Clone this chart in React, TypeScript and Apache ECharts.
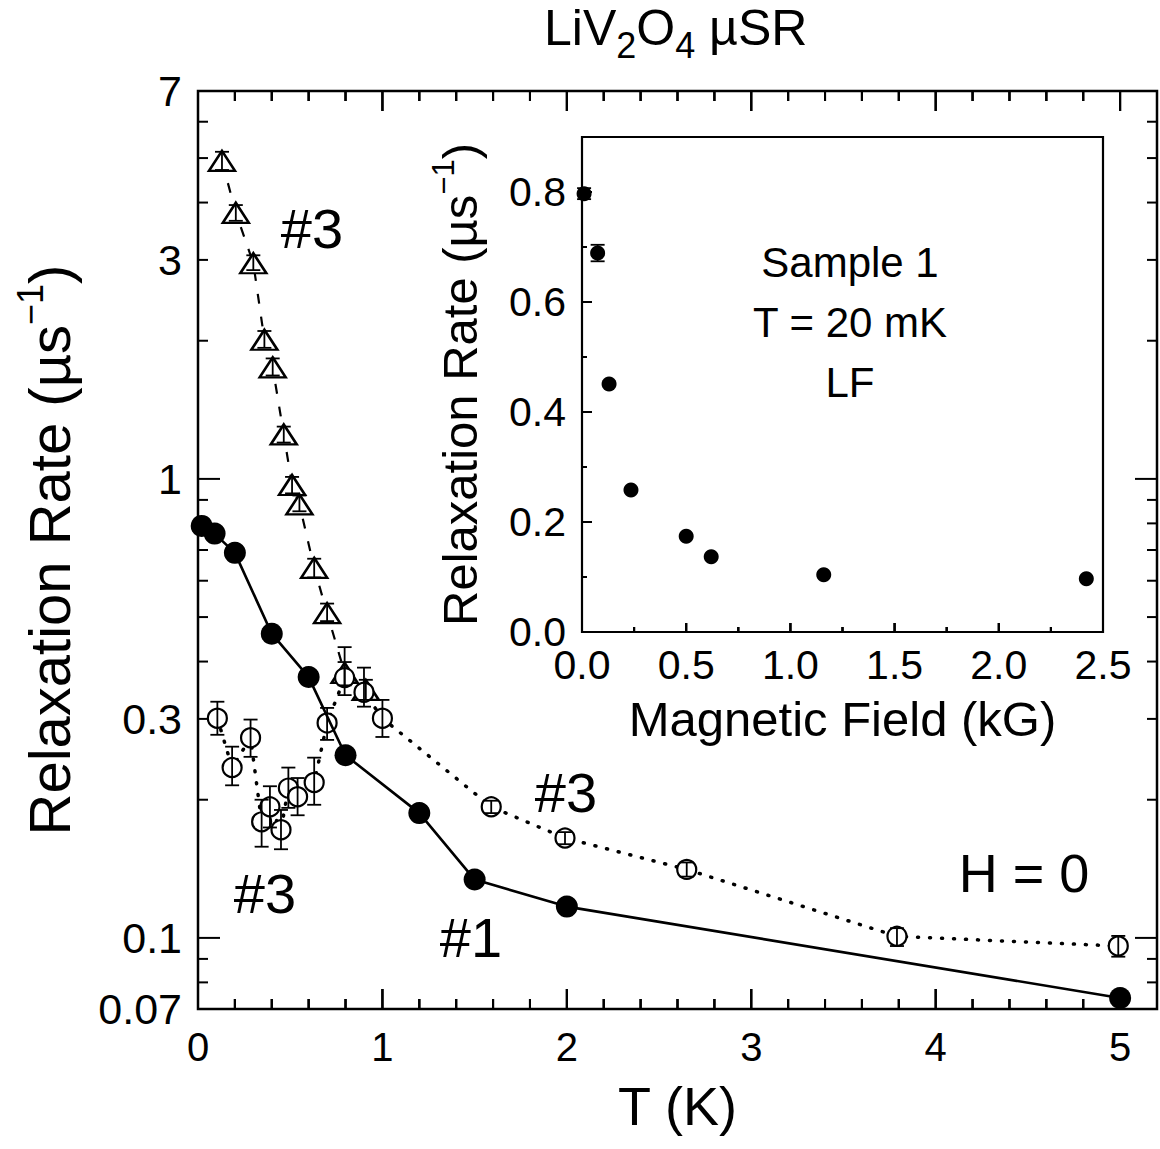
import React, { useEffect, useRef } from 'react';
import * as echarts from 'echarts';

// ---------- data (main panel) ----------
const T_S1 = [0.02, 0.09, 0.2, 0.4, 0.6, 0.8, 1.2, 1.5, 2.0, 5.0];
const RATE_S1 = [0.79, 0.76, 0.69, 0.46, 0.37, 0.25, 0.187, 0.134, 0.117, 0.074];

const T_TRI = [0.13, 0.205, 0.3, 0.36, 0.405, 0.465, 0.51, 0.55, 0.63, 0.7, 0.795, 0.91];
const RATE_TRI = [4.93, 3.8, 2.95, 2.01, 1.75, 1.25, 0.97, 0.88, 0.64, 0.51, 0.378, 0.347];
const TRI_LO = [4.71, 3.65, 2.85, 1.93, 1.68, 1.2, 0.93, 0.85, 0.61, 0.49, 0.355, 0.33];
const TRI_HI = [5.16, 3.95, 3.07, 2.1, 1.83, 1.3, 1.01, 0.92, 0.67, 0.535, 0.43, 0.365];

const T_CIR = [0.105, 0.185, 0.285, 0.345, 0.39, 0.45, 0.49, 0.54, 0.63, 0.7, 0.795, 0.9, 1.0, 1.59, 1.99, 2.65, 3.79, 4.99];
const RATE_CIR = [0.301, 0.235, 0.273, 0.179, 0.193, 0.172, 0.212, 0.203, 0.218, 0.294, 0.369, 0.343, 0.301, 0.193, 0.165, 0.141, 0.1008, 0.096];
const CIR_LO = [0.277, 0.215, 0.248, 0.158, 0.174, 0.156, 0.192, 0.185, 0.195, 0.27, 0.338, 0.319, 0.274, 0.187, 0.16, 0.136, 0.096, 0.091];
const CIR_HI = [0.327, 0.261, 0.299, 0.2, 0.214, 0.19, 0.235, 0.223, 0.247, 0.317, 0.399, 0.388, 0.33, 0.199, 0.17, 0.146, 0.105, 0.101];

// ---------- data (inset) ----------
const FIELD = [0.01, 0.075, 0.13, 0.235, 0.5, 0.62, 1.16, 2.42];
const RATE_LF = [0.797, 0.689, 0.451, 0.258, 0.174, 0.137, 0.104, 0.097];
const LF_LO = [0.787, 0.674, 0.451, 0.258, 0.174, 0.137, 0.104, 0.097];
const LF_HI = [0.807, 0.704, 0.451, 0.258, 0.174, 0.137, 0.104, 0.097];

// ---------- ticks ----------
const X_MAJOR = [0, 1, 2, 3, 4, 5];
const X_MINOR = [0.2, 0.4, 0.6, 0.8, 1.2, 1.4, 1.6, 1.8, 2.2, 2.4, 2.6, 2.8, 3.2, 3.4, 3.6, 3.8, 4.2, 4.4, 4.6, 4.8];
const Y_LABELS = [0.07, 0.1, 0.3, 1, 3, 7];
const Y_MAJOR = [0.1, 1];
const Y_MINOR = [0.08, 0.09, 0.2, 0.3, 0.4, 0.5, 0.6, 0.7, 0.8, 0.9, 2, 3, 4, 5, 6];
const Y_MIN = 0.07;
const Y_MAX = 7;
const X_MAX = 5.2;
const IN_X_LABELS = [0, 0.5, 1, 1.5, 2, 2.5];
const IN_X_MINOR = [0.25, 0.75, 1.25, 1.75, 2.25];
const IN_Y_LABELS = [0, 0.2, 0.4, 0.6, 0.8];
const IN_Y_MINOR = [0.1, 0.3, 0.5, 0.7];
const IN_X_MAX = 2.5;
const IN_Y_MAX = 0.9;

const F = 'Liberation Sans';
const L = (v: number) => Math.log10(v);
const black = '#000';

function buildOption() {
  const noLine = { show: false, onZero: false };

  const errRender = (params: any, api: any) => {
    const x = api.value(0);
    const p1 = api.coord([x, api.value(1)]);
    const p2 = api.coord([x, api.value(2)]);
    const w = 7;
    const st = { stroke: black, lineWidth: 1.8 };
    return {
      type: 'group',
      children: [
        { type: 'line', shape: { x1: p1[0], y1: p1[1], x2: p2[0], y2: p2[1] }, style: st },
        { type: 'line', shape: { x1: p1[0] - w, y1: p1[1], x2: p1[0] + w, y2: p1[1] }, style: st },
        { type: 'line', shape: { x1: p2[0] - w, y1: p2[1], x2: p2[0] + w, y2: p2[1] }, style: st },
      ],
    };
  };

  const errMain = [
    ...T_TRI.map((t, i) => [t, L(TRI_LO[i]), L(TRI_HI[i])]),
    ...T_CIR.map((t, i) => [t, L(CIR_LO[i]), L(CIR_HI[i])]),
  ];
  const errInset = FIELD.map((f, i) => [f, LF_LO[i], LF_HI[i]]).filter((d) => d[2] > d[1]);

  const yMinL = L(Y_MIN);
  const yMaxL = L(Y_MAX);

  return {
    animation: false,
    backgroundColor: '#fff',
    title: {
      text: '{a|LiV}{b|2}{a|O}{b|4}{a| µSR}',
      left: 544, top: 3, padding: 0,
      textStyle: {
        fontWeight: 'normal',
        rich: {
          a: { fontFamily: F, fontSize: 50, fontWeight: 'normal', color: black, lineHeight: 60, verticalAlign: 'top' },
          b: { fontFamily: F, fontSize: 36, fontWeight: 'normal', color: black, lineHeight: 60, verticalAlign: 'bottom' },
        },
      },
    },
    grid: [
      { left: 198, top: 91, width: 959, height: 918, show: true, borderColor: black, borderWidth: 2.5, backgroundColor: 'transparent' },
      { left: 582, top: 137, width: 521, height: 495, show: true, borderColor: black, borderWidth: 2.2, backgroundColor: '#fff' },
    ],
    xAxis: [
      {
        type: 'value', gridIndex: 0, min: 0, max: X_MAX, position: 'bottom',
        axisLine: noLine, splitLine: { show: false }, axisTick: { show: false },
        axisLabel: { show: true, customValues: X_MAJOR, color: black, fontFamily: F, fontSize: 40, margin: 18, formatter: (v: number) => String(v) },
        name: 'T (K)', nameLocation: 'middle', nameGap: 70,
        nameTextStyle: { fontFamily: F, fontSize: 54, color: black },
      },
      {
        type: 'value', gridIndex: 1, min: 0, max: IN_X_MAX, position: 'bottom',
        axisLine: noLine, splitLine: { show: false }, axisTick: { show: false },
        axisLabel: { show: true, customValues: IN_X_LABELS, color: black, fontFamily: F, fontSize: 41, margin: 12, formatter: (v: number) => v.toFixed(1) },
        name: 'Magnetic Field (kG)', nameLocation: 'middle', nameGap: 62,
        nameTextStyle: { fontFamily: F, fontSize: 49, color: black },
      },
    ],
    yAxis: [
      {
        type: 'value', gridIndex: 0, min: yMinL, max: yMaxL, position: 'left',
        axisLine: noLine, splitLine: { show: false }, axisTick: { show: false },
        axisLabel: {
          show: true, customValues: Y_LABELS.map(L), color: black, fontFamily: F, fontSize: 43, margin: 16,
          formatter: (v: number) => {
            const t = Y_LABELS.find((y) => Math.abs(L(y) - v) < 1e-6);
            return t === undefined ? '' : String(t);
          },
        },
        name: '{a|Relaxation Rate (µs}{s|−1}{a|)}', nameLocation: 'middle', nameGap: 120, nameRotate: 90,
        nameTextStyle: {
          rich: {
            a: { fontFamily: F, fontSize: 58, color: black, lineHeight: 66, verticalAlign: 'bottom' },
            s: { fontFamily: F, fontSize: 36, color: black, lineHeight: 66, verticalAlign: 'top' },
          },
        },
      },
      {
        type: 'value', gridIndex: 1, min: 0, max: IN_Y_MAX, position: 'left',
        axisLine: noLine, splitLine: { show: false }, axisTick: { show: false },
        axisLabel: { show: true, customValues: IN_Y_LABELS, color: black, fontFamily: F, fontSize: 41, margin: 16, formatter: (v: number) => v.toFixed(1) },
        name: '{a|Relaxation Rate (µs}{s|−1}{a|)}', nameLocation: 'middle', nameGap: 98, nameRotate: 90,
        nameTextStyle: {
          rich: {
            a: { fontFamily: F, fontSize: 49, color: black, lineHeight: 56, verticalAlign: 'bottom' },
            s: { fontFamily: F, fontSize: 31, color: black, lineHeight: 56, verticalAlign: 'top' },
          },
        },
      },
    ],
    series: [
      {
        type: 'line', xAxisIndex: 0, yAxisIndex: 0,
        data: T_TRI.map((t, i) => [t, L(RATE_TRI[i])]),
        symbol: 'triangle', symbolSize: [26, 20],
        itemStyle: { color: '#fff', borderColor: black, borderWidth: 2.5 },
        lineStyle: { color: black, width: 2.2, type: [10, 13] },
        z: 2,
      },
      {
        type: 'line', xAxisIndex: 0, yAxisIndex: 0,
        data: T_CIR.map((t, i) => [t, L(RATE_CIR[i])]),
        symbol: 'circle', symbolSize: 19,
        itemStyle: { color: '#fff', borderColor: black, borderWidth: 2.2 },
        lineStyle: { color: black, width: 3.5, type: [1, 11], cap: 'round' },
        z: 2,
      },
      {
        type: 'line', xAxisIndex: 0, yAxisIndex: 0,
        data: T_S1.map((t, i) => [t, L(RATE_S1[i])]),
        symbol: 'circle', symbolSize: 22,
        itemStyle: { color: black },
        lineStyle: { color: black, width: 2.6 },
        z: 3,
      },
      {
        type: 'custom', xAxisIndex: 0, yAxisIndex: 0,
        data: errMain, encode: { x: 0, y: [1, 2] },
        renderItem: errRender, z: 4,
      },
      {
        type: 'scatter', xAxisIndex: 1, yAxisIndex: 1,
        data: FIELD.map((f, i) => [f, RATE_LF[i]]),
        symbol: 'circle', symbolSize: 15,
        itemStyle: { color: black, opacity: 1 },
        z: 5,
      },
      {
        type: 'custom', xAxisIndex: 1, yAxisIndex: 1,
        data: errInset, encode: { x: 0, y: [1, 2] },
        renderItem: errRender, z: 6,
      },
    ],
  };
}

// frame ticks and annotations, placed through the axes' own scales
function buildGraphics(chart: any) {
  const txt = (text: string, x: number, y: number, size: number) => ({
    type: 'text', x, y, z: 100,
    style: { text, fill: black, fontFamily: F, fontSize: size, align: 'center', verticalAlign: 'middle' },
  });
  const px = (xi: number, v: number) => chart.convertToPixel({ xAxisIndex: xi }, v) as number;
  const py = (yi: number, v: number) => chart.convertToPixel({ yAxisIndex: yi }, v) as number;
  const seg = (x1: number, y1: number, x2: number, y2: number) => ({
    type: 'line', z: 90, silent: true,
    shape: { x1, y1, x2, y2 },
    style: { stroke: black, lineWidth: 2 },
  });
  // comb polyline along an edge: dir = -1 (ticks go up) or +1 (ticks go down)
  const comb = (xs: number[], lens: number[], edge: number, dir: number) => {
    const pts: number[][] = [];
    xs.forEach((x, i) => {
      pts.push([x, edge], [x, edge + dir * lens[i]], [x, edge]);
    });
    return { type: 'polyline', z: 91, silent: true, shape: { points: pts }, style: { stroke: black, lineWidth: 2, fill: null } };
  };
  const out: any[] = [];

  // main grid edges, extrapolated from interior ticks of the y scale
  const y01 = py(0, L(0.1));
  const y1 = py(0, L(1));
  const perDecade = y01 - y1;
  const bottom = y01 + (L(0.1) - L(Y_MIN)) * perDecade;
  const top = y1 - (L(Y_MAX) - L(1)) * perDecade;
  const left = px(0, 0);
  const right = px(0, X_MAX);

  const allX = [...X_MAJOR.map((v) => [v, 20]), ...X_MINOR.map((v) => [v, 10])].sort((a, b) => a[0] - b[0]);
  const xsPix = allX.map((d) => px(0, d[0]));
  const xsLen = allX.map((d) => d[1]);
  out.push(comb(xsPix, xsLen, bottom, -1));
  out.push(comb(xsPix, xsLen, top, 1));
  allX.forEach((d, i) => {
    out.push(seg(xsPix[i], bottom, xsPix[i], bottom - d[1]));
    out.push(seg(xsPix[i], top, xsPix[i], top + d[1]));
    out.push({ type: 'rect', z: 92, silent: true, shape: { x: xsPix[i] - 1, y: bottom - d[1], width: 2, height: d[1] }, style: { fill: black } });
    out.push({ type: 'rect', z: 92, silent: true, shape: { x: xsPix[i] - 1, y: top, width: 2, height: d[1] }, style: { fill: black } });
  });

  const hTicks = (vals: number[], len: number) =>
    vals.forEach((v) => {
      const y = py(0, L(v));
      out.push(seg(left, y, left + len, y));
      out.push(seg(right, y, right - len, y));
    });
  hTicks(Y_MAJOR, 22);
  hTicks(Y_MINOR, 10);

  // inset grid
  const i02 = py(1, 0.2);
  const i04 = py(1, 0.4);
  const ib = i02 + (i02 - i04);
  const il = px(1, 0);
  const inX = [...IN_X_LABELS.map((v) => [v, 9]), ...IN_X_MINOR.map((v) => [v, 5])].sort((a, b) => a[0] - b[0]);
  const inXs = inX.map((d) => px(1, d[0]));
  out.push(comb(inXs, inX.map((d) => d[1]), ib, -1));
  inX.forEach((d, i) => {
    out.push(seg(inXs[i], ib, inXs[i], ib - d[1]));
    out.push({ type: 'rect', z: 92, silent: true, shape: { x: inXs[i] - 1, y: ib - d[1], width: 2, height: d[1] }, style: { fill: black } });
  });
  IN_Y_LABELS.forEach((v) => { const y = py(1, v); out.push(seg(il, y, il + 10, y)); });
  IN_Y_MINOR.forEach((v) => { const y = py(1, v); out.push(seg(il, y, il + 5, y)); });

  out.push(
    txt('#3', 312, 228, 56),
    txt('#3', 566, 792, 56),
    txt('#3', 265, 893, 56),
    txt('#1', 471, 937, 56),
    txt('H = 0', 1024, 873, 54),
    txt('Sample 1', 850, 262, 42),
    txt('T = 20 mK', 850, 322, 42),
    txt('LF', 850, 382, 42),
  );
  return out;
}

export default function App() {
  const ref = useRef<HTMLDivElement>(null);
  useEffect(() => {
    const chart = echarts.init(ref.current as HTMLDivElement, undefined, { renderer: 'svg' });
    chart.setOption(buildOption() as any);
    chart.setOption({ graphic: buildGraphics(chart) } as any);
    return () => chart.dispose();
  }, []);
  return (
    <div
      ref={ref}
      style={{ position: 'fixed', left: 0, top: 0, width: 1160, height: 1149, background: '#fff' }}
    />
  );
}
